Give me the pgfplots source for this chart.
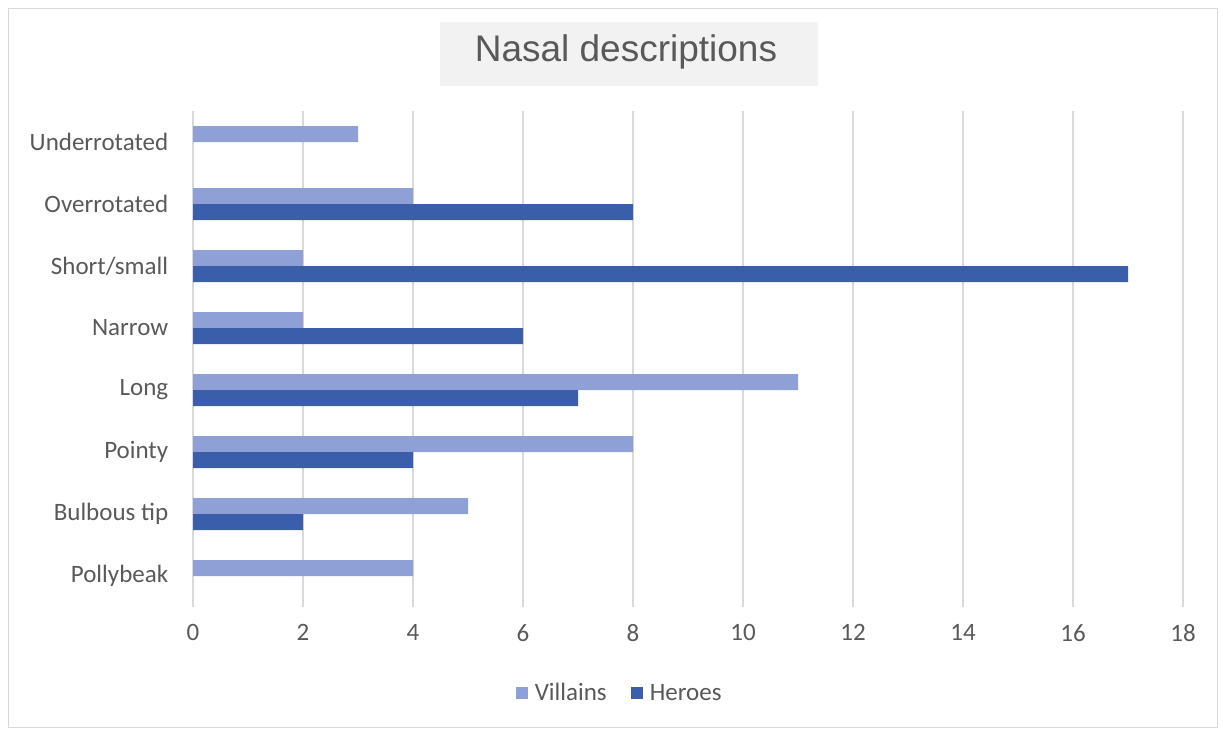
\documentclass[border=0pt]{standalone}
\usepackage{pgfplots}
\pgfplotsset{compat=1.18}
\usepackage{fontspec}
\setmainfont{Carlito}
\newfontfamily\titlefont{Liberation Sans}
\definecolor{villain}{RGB}{143,160,214}
\definecolor{hero}{RGB}{59,94,170}
\definecolor{txt}{RGB}{89,89,89}
\definecolor{gridc}{RGB}{217,217,217}
\begin{document}
\begin{tikzpicture}[x=1pt,y=1pt]
\path[use as bounding box] (0,0) rectangle (1223,-734);
\draw[gridc,line width=1pt] (8,-8) rectangle (1217,-727);
\fill[black!5] (440,-22) rectangle (818,-86);
\node[txt,font=\titlefont\fontsize{37}{40}\selectfont] at (626,-52) {Nasal descriptions};
\begin{axis}[
  at={(193pt,-607pt)}, anchor=south west,
  scale only axis, width=990pt, height=496pt,
  xbar, bar width=16pt,
  xmin=0, xmax=18, xtick={0,2,...,18},
  ymin=-0.5, ymax=7.5, ytick={0,...,7},
  yticklabels={Pollybeak,Bulbous tip,Pointy,Long,Narrow,Short/small,Overrotated,Underrotated},
  axis line style={draw=none}, tick style={draw=none},
  xmajorgrids, ymajorgrids=false,
  x grid style={gridc,line width=1.2pt},
  ticklabel style={txt,font=\fontsize{25}{28}\selectfont},
  /pgf/number format/assume math mode=true,
  xticklabel style={yshift=-14pt},
  yticklabel style={xshift=-17pt},
  legend style={at={(0.431,-0.173)}, anchor=center, draw=none, fill=none,
    font=\fontsize{25}{28}\selectfont, text=txt, legend columns=2,
    /tikz/every odd column/.append style={column sep=5pt},
    /tikz/every even column/.append style={column sep=22pt}},
  legend image code/.code={\fill[#1] (0pt,-6pt) rectangle (12pt,6pt);},
  legend cell align=left,
]
\addplot[draw=none, fill=villain, bar shift=8pt] coordinates {
  (4,0) (5,1) (8,2) (11,3) (2,4) (2,5) (4,6) (3,7)};
\addplot[draw=none, fill=hero, bar shift=-8pt] coordinates {
  (2,1) (4,2) (7,3) (6,4) (17,5) (8,6)};
\legend{Villains,Heroes}
\end{axis}
\end{tikzpicture}
\end{document}
